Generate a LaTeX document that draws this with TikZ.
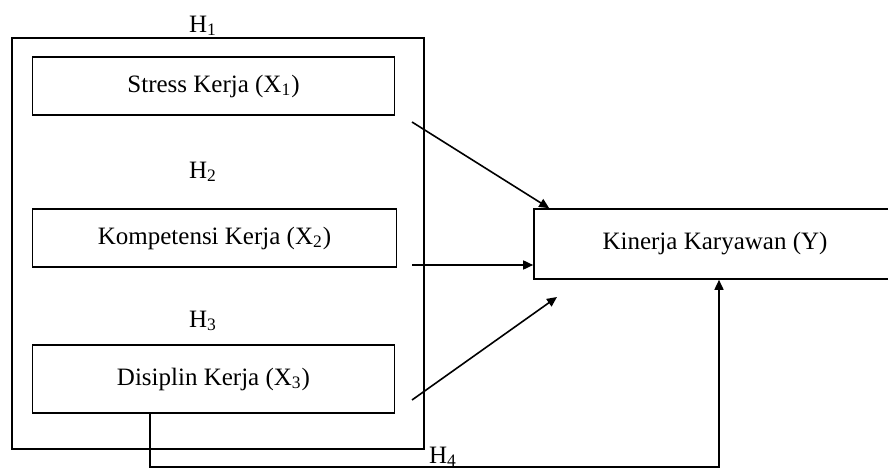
\documentclass[tikz,border=0pt]{standalone}
\usepackage{fontspec}
\setmainfont{Liberation Serif}
\usetikzlibrary{positioning, calc, arrows.meta}

\tikzset{
	varbox/.style={draw, rectangle, line width=0.8pt, inner sep=0pt},
	hlabel/.style={inner sep=0pt},
	pfeil/.style={line width=0.8pt, -{Triangle[length=5pt, width=4.5pt]}}
}

\begin{document}
\begin{tikzpicture}[x=0.5pt, y=-0.5pt]\fontsize{12.5}{14}\selectfont
	\useasboundingbox (0,0) rectangle (888,470);
	% Rahmen um die unabhaengigen Variablen
	\node[varbox, minimum width=206pt, minimum height=205.5pt] (rahmen) at (218,243.5) {};
	\node[varbox, minimum width=181pt, minimum height=29pt] (stress) at (213.5,86) {Stress Kerja (X\textsubscript{1})};
	\node[varbox, minimum width=182pt, minimum height=29pt] (kompetensi) at (214.5,238) {\raisebox{-4pt}{Kompetensi Kerja (X\textsubscript{2})}};
	\node[varbox, minimum width=181pt, minimum height=34pt] (disiplin) at (213.5,379) {\raisebox{-3pt}{Disiplin Kerja (X\textsubscript{3})}};
	\node[varbox, minimum width=181pt, minimum height=35pt] (kinerja) at (715,244) {\raisebox{-3pt}{Kinerja Karyawan (Y)}};
	\node[hlabel] (h1) at (203,26) {H\textsubscript{1}};
	\node[hlabel] (h2) at (203,172) {H\textsubscript{2}};
	\node[hlabel] (h3) at (203,321) {H\textsubscript{3}};
	\node[hlabel] (h4) at (443,457) {H\textsubscript{4}};
	\coordinate (p1) at (412,122);
	\coordinate (p2) at (412,265);
	\coordinate (p3) at (412,400);
	\coordinate (e3) at (557,297);
	\coordinate (u1) at (150,467);
	\coordinate (u2) at (719,467);
	\draw[pfeil] (p1) -- ($(kinerja.north west)+(16,0)$);
	\draw[pfeil] (p2) -- (p2 -| kinerja.west);
	\draw[pfeil] (p3) -- (e3);
	\draw[pfeil] (disiplin.south -| u1) -- (u1) -- (u2) -- (u2 |- kinerja.south);
\end{tikzpicture}
\end{document}
